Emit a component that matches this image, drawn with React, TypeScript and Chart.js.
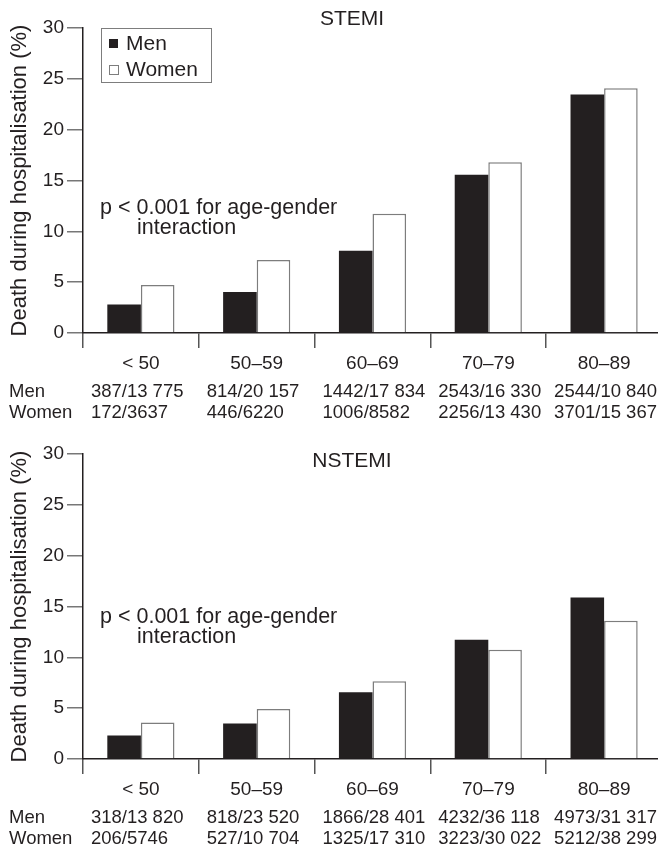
import React, { useEffect, useRef } from 'react';
import { Chart, registerables } from 'chart.js';

Chart.register(...registerables);

const categories = ['< 50', '50–59', '60–69', '70–79', '80–89'];

const stemiMen = [2.81, 4.04, 8.09, 15.57, 23.47];
const stemiWomen = [4.73, 7.17, 11.72, 16.8, 24.08];
const nstemiMen = [2.3, 3.48, 6.57, 11.72, 15.88];
const nstemiWomen = [3.59, 4.92, 7.65, 10.74, 13.61];

const stemiMenCounts = ['387/13 775', '814/20 157', '1442/17 834', '2543/16 330', '2544/10 840'];
const stemiWomenCounts = ['172/3637', '446/6220', '1006/8582', '2256/13 430', '3701/15 367'];
const nstemiMenCounts = ['318/13 820', '818/23 520', '1866/28 401', '4232/36 118', '4973/31 317'];
const nstemiWomenCounts = ['206/5746', '527/10 704', '1325/17 310', '3223/30 022', '5212/38 299'];

const yMin = 0;
const yMax = 30;
const yStep = 5;

const seriesNames = ['Men', 'Women'];
const pText = ['p < 0.001 for age-gender', 'interaction'];
const yTitle = 'Death during hospitalisation (%)';

const FONT = '"Liberation Sans", Arial, Helvetica, sans-serif';
const INK = '#231f20';
const GRAY = '#7d7d7d';

const W = 662;
const H = 426;

type PanelProps = {
  title: string;
  men: number[];
  women: number[];
  menCounts: string[];
  womenCounts: string[];
  showLegend: boolean;
  titleY: number;
  pY: number;
};

function Panel(props: PanelProps) {
  const ref = useRef<HTMLCanvasElement | null>(null);
  useEffect(() => {
    const { title, men, women, menCounts, womenCounts, showLegend, titleY, pY } = props;
    const annot = {
      id: 'annot',
      afterDraw(chart: any) {
        const ctx = chart.ctx as CanvasRenderingContext2D;
        const xs = chart.scales.x;
        const area = chart.chartArea;
        ctx.save();
        ctx.fillStyle = INK;
        ctx.textBaseline = 'middle';
        ctx.font = `21px ${FONT}`;
        ctx.textAlign = 'center';
        ctx.fillText(title, 352, titleY);
        ctx.textAlign = 'left';
        ctx.font = `21.5px ${FONT}`;
        ctx.fillText(pText[0], 100, pY);
        ctx.fillText(pText[1], 137, pY + 20);

        ctx.font = `18.5px ${FONT}`;
        const r1 = area.bottom + 59;
        const r2 = area.bottom + 80;
        ctx.fillText(seriesNames[0], 9, r1);
        ctx.fillText(seriesNames[1], 9, r2);
        categories.forEach((_, i) => {
          const cx = xs.getPixelForValue(i);
          ctx.fillText(menCounts[i], cx - 50, r1);
          ctx.fillText(womenCounts[i], cx - 50, r2);
        });

        if (showLegend) {
          ctx.strokeStyle = GRAY;
          ctx.lineWidth = 1;
          ctx.strokeRect(101.5, 28.5, 110, 54);
          const ds = chart.data.datasets;
          ctx.fillStyle = ds[0].backgroundColor;
          ctx.fillRect(109, 39, 9, 9);
          ctx.fillStyle = '#fff';
          ctx.fillRect(109, 65.5, 9, 9);
          ctx.strokeStyle = GRAY;
          ctx.strokeRect(109.5, 65.5, 9, 9);
          ctx.fillStyle = INK;
          ctx.font = `21px ${FONT}`;
          ctx.fillText(ds[0].label, 126, 44);
          ctx.fillText(ds[1].label, 126, 70);
        }
        ctx.restore();
      },
    };

    const chart = new Chart(ref.current as HTMLCanvasElement, {
      type: 'bar',
      data: {
        labels: categories,
        datasets: [
          {
            label: seriesNames[0],
            data: men,
            backgroundColor: INK,
            borderWidth: 0,
            categoryPercentage: 0.58,
            barPercentage: 1,
          },
          {
            label: seriesNames[1],
            data: women,
            backgroundColor: '#ffffff',
            borderColor: GRAY,
            borderWidth: 1.5,
            borderSkipped: 'bottom',
            categoryPercentage: 0.58,
            barPercentage: 1,
          },
        ],
      },
      options: {
        responsive: false,
        animation: false,
        events: [],
        layout: { padding: { top: 28, left: 0, right: 0, bottom: 0 } },
        plugins: {
          legend: { display: false },
          tooltip: { enabled: false },
          title: { display: false },
        },
        scales: {
          x: {
            type: 'category',
            offset: true,
            grid: {
              offset: true,
              drawOnChartArea: false,
              drawTicks: true,
              tickLength: 15,
              color: '#555',
              lineWidth: 1.5,
            },
            border: { display: true, color: INK, width: 1.5 },
            ticks: {
              font: { family: FONT, size: 19 },
              color: INK,
              padding: 4,
              maxRotation: 0,
              autoSkip: false,
            },
            afterFit: (s: any) => {
              s.height = H - 333;
            },
          },
          y: {
            min: yMin,
            max: yMax,
            ticks: {
              stepSize: yStep,
              font: { family: FONT, size: 19 },
              color: INK,
              padding: 3,
            },
            grid: {
              drawOnChartArea: false,
              drawTicks: true,
              tickLength: 16,
              color: '#777',
              lineWidth: 1.5,
            },
            border: { display: true, color: INK, width: 1.5 },
            title: {
              display: true,
              text: yTitle,
              color: INK,
              font: { family: FONT, size: 22 },
              padding: { top: 7, bottom: 0 },
            },
            afterFit: (s: any) => {
              s.width = 83;
            },
          },
        },
      },
      plugins: [annot],
    } as any);
    return () => chart.destroy();
  }, []);
  return <canvas ref={ref} width={W} height={H} style={{ display: 'block', width: W, height: H }} />;
}

export default function App() {
  return (
    <div
      style={{
        position: 'absolute',
        left: 0,
        top: 0,
        width: 658,
        height: 852,
        overflow: 'hidden',
        background: '#fff',
      }}
    >
      <Panel
        title="STEMI"
        men={stemiMen}
        women={stemiWomen}
        menCounts={stemiMenCounts}
        womenCounts={stemiWomenCounts}
        showLegend={true}
        titleY={19.5}
        pY={208}
      />
      <Panel
        title="NSTEMI"
        men={nstemiMen}
        women={nstemiWomen}
        menCounts={nstemiMenCounts}
        womenCounts={nstemiWomenCounts}
        showLegend={false}
        titleY={35.5}
        pY={191}
      />
    </div>
  );
}
